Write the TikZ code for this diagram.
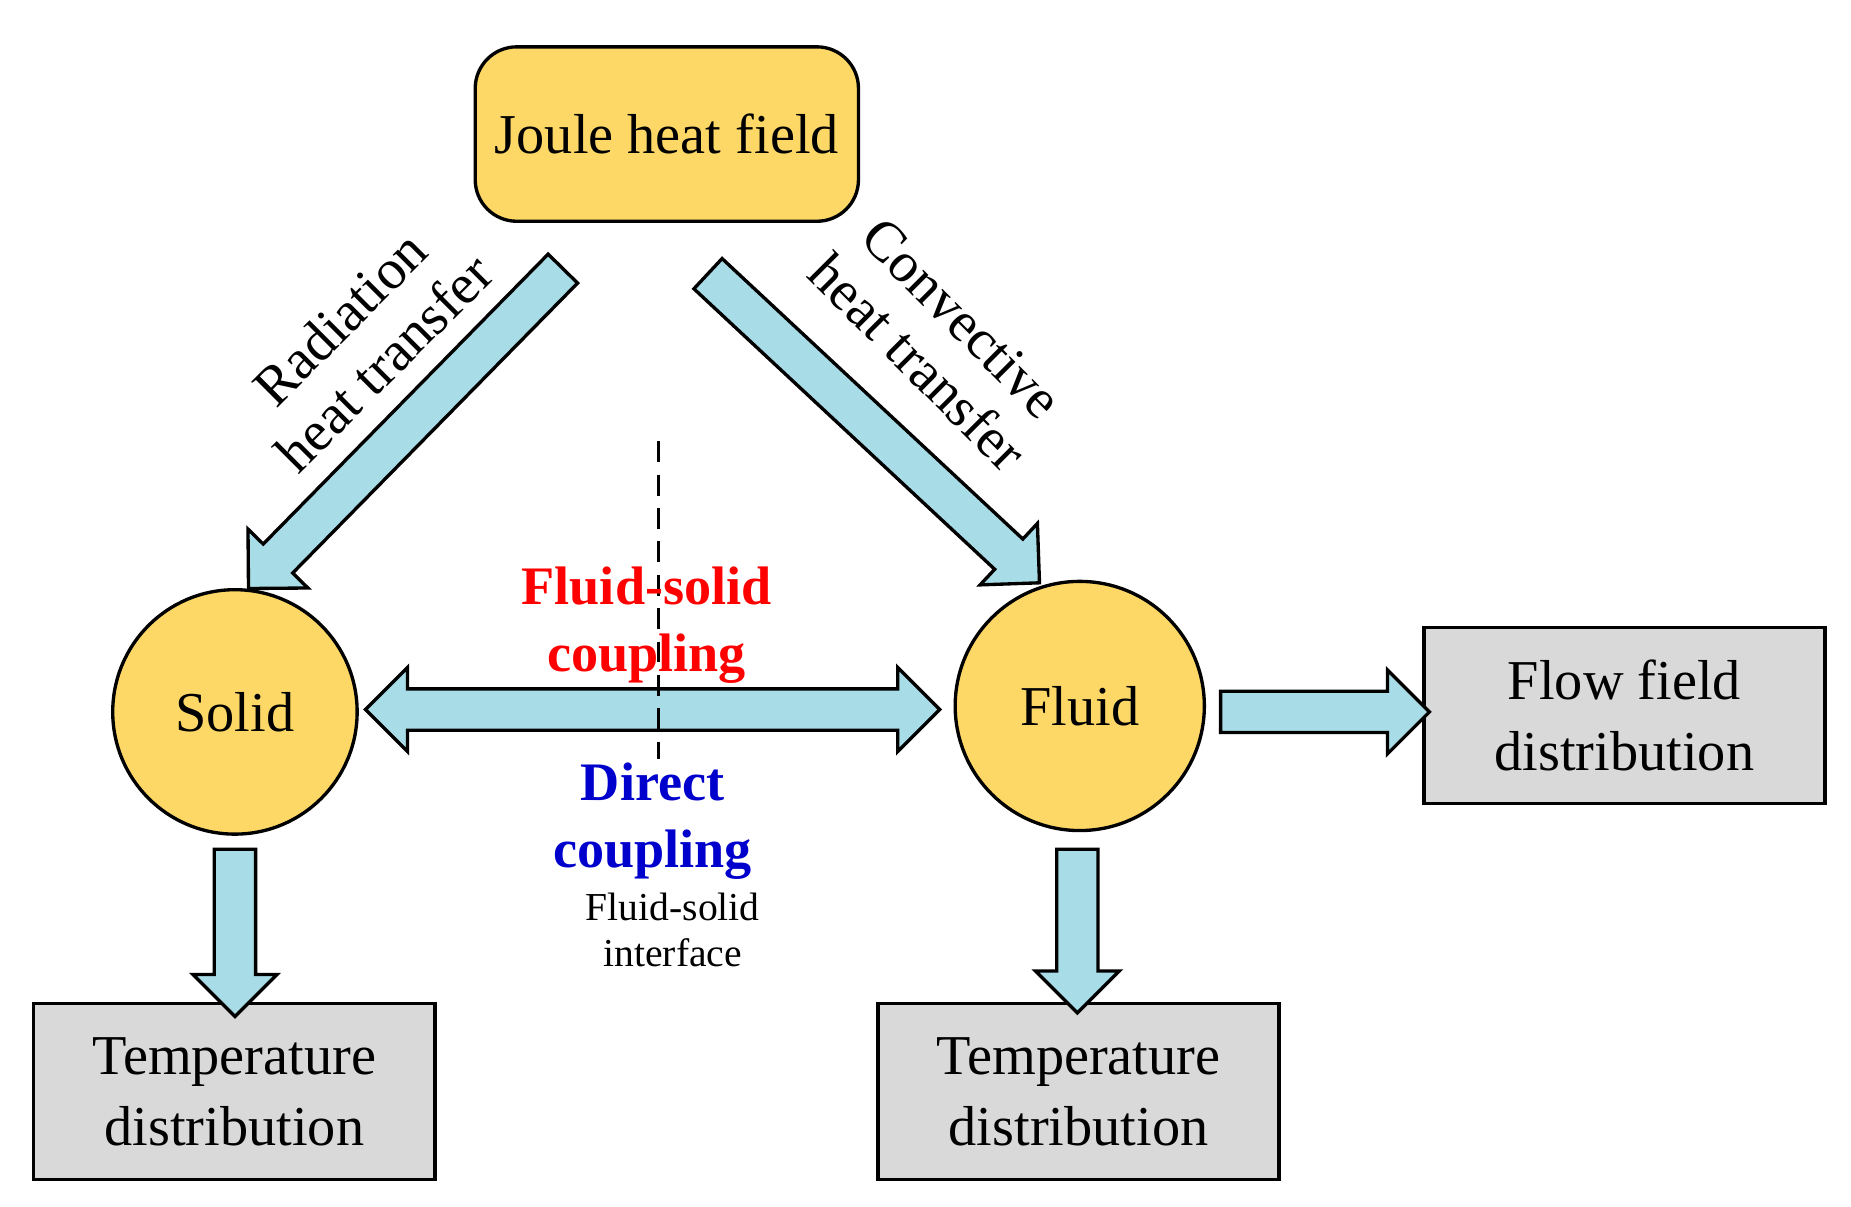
\documentclass[tikz,border=0pt]{standalone}
\usepackage{fontspec}
\setmainfont{Liberation Serif}
\usetikzlibrary{positioning}
\usetikzlibrary{shapes.arrows}
\definecolor{sunny}{HTML}{FDD866}
\definecolor{aqua}{HTML}{A8DDE8}
\definecolor{boxgray}{HTML}{D9D9D9}
\tikzset{
    fat/.style={single arrow, draw=black, fill=aqua, thick, inner xsep=0pt, inner ysep=0.16cm,
        single arrow head extend=0.18cm, single arrow head indent=0pt},
    fatboth/.style={double arrow, draw=black, fill=aqua, thick, inner xsep=0pt, inner ysep=0.16cm,
        double arrow head extend=0.18cm},
    result/.style={rectangle, draw=black, thick, fill=boxgray, minimum width=3.38cm, minimum height=1.48cm,
        align=center, font=\fontsize{13.5}{17}\selectfont},
    phase/.style={circle, draw=black, thick, fill=sunny, font=\fontsize{13.5}{16}\selectfont}
}
\begin{document}
\begin{tikzpicture}
    \useasboundingbox (0,0) rectangle (15.6,10.17);
    \node (joule) [rectangle, rounded corners=0.35cm, draw=black, thick, fill=sunny, minimum width=3.23cm,
        minimum height=1.47cm, font=\fontsize{13.5}{16}\selectfont] at (5.62,9.04) {Joule heat field};
    \node (solid) [phase, minimum size=2.06cm] at (1.98,4.17) {Solid};
    \node (fluid) [phase, minimum size=2.1cm] at (9.10,4.22) {Fluid};
    \node (flow) [result] at (13.69,4.14) {Flow field\\distribution};
    \node (tempL) [result] at (1.975,0.97) {Temperature\\distribution};
    \node (tempR) [result] at (9.09,0.97) {Temperature\\distribution};
    % fat arrows
    \node (radarrow) [fat, minimum height=3.78cm, rotate=225.5] at (3.48,6.62) {};
    \node (convarrow) [fat, minimum height=3.82cm, rotate=-43] at (7.30,6.62) {};
    \node (couplearrow) [fatboth, minimum height=4.84cm] at (5.50,4.19) {};
    \node (solidarrow) [fat, minimum height=1.41cm, rotate=-90] at (1.98,2.395) {};
    \node (fluidarrow) [fat, minimum height=1.38cm, rotate=-90] at (9.08,2.41) {};
    \node (flowarrow) [fat, minimum height=1.76cm, rotate=0] at (11.08,4.17) {};
    % labels
    \node (radlabel) [rotate=45, align=center, inner sep=1pt, font=\fontsize{13.5}{15}\selectfont] at (3.05,7.3) {Radiation\\heat transfer};
    \node (convlabel) [rotate=-45, align=center, inner sep=1pt, font=\fontsize{13.5}{15}\selectfont] at (7.92,7.3) {Convective\\heat transfer};
    \coordinate (itop) at (5.55,6.45);
    \coordinate (ibot) at (5.55,3.77);
    \draw [dashed, thick, dash pattern=on 5pt off 3pt] (itop) -- (ibot);
    \node (fsc) [align=center, text=red, font=\bfseries\fontsize{13}{16}\selectfont] at (5.45,4.9) {Fluid-solid\\coupling};
    \node (dc) [align=center, text=blue!80!black, font=\bfseries\fontsize{13}{16}\selectfont] at (5.50,3.25) {Direct\\coupling};
    \node (iface) [align=center, font=\fontsize{9.5}{11}\selectfont] at (5.67,2.33) {Fluid-solid\\interface};
\end{tikzpicture}
\end{document}
